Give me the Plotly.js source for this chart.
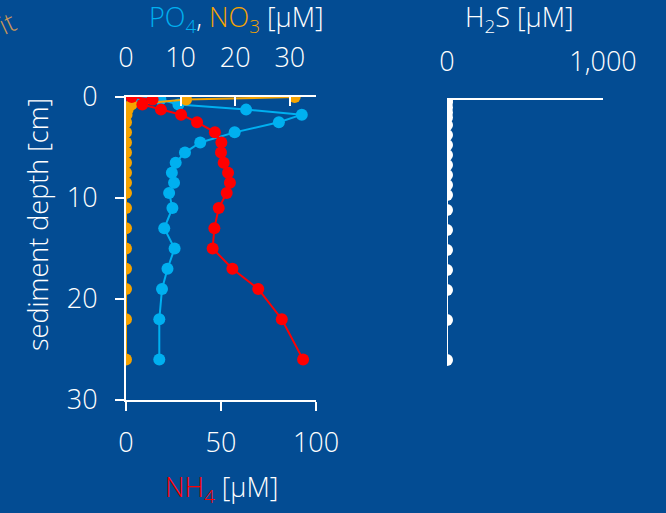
<!DOCTYPE html>
<html>
<head>
<meta charset="utf-8">
<script src="https://cdn.plot.ly/plotly-3.0.1.min.js"></script>
<style>html,body{margin:0;padding:0;background:#034c93;}#chart{width:666px;height:513px;}</style>
</head>
<body>
<div id="chart"></div>
<script>
// sediment depth [cm]
const depth = [0, 0.25, 0.75, 1.25, 1.75, 2.5, 3.5, 4.5, 5.5, 6.5, 7.5, 8.5, 9.5, 11, 13, 15, 17, 19, 22, 26];
// concentrations [µM]
const nh4 = [3, 14, 8.6, 18.4, 29, 37.4, 46.8, 50.2, 50, 51.4, 53.7, 54.7, 53, 48.8, 46.5, 45.6, 56, 69.6, 82, 93.2];
const po4 = [2.1, 6.3, 9.6, 22, 32.2, 28, 19.9, 13.6, 10.8, 9.1, 8.4, 8.8, 7.9, 8.5, 7.0, 8.9, 7.6, 6.6, 6.1, 6.1];
const no3 = [30.9, 11.0, 1.0, 0.3, 0.1, 0, 0, 0, 0, 0, 0, 0, 0, 0, 0, 0, 0, 0, 0, 0];
const h2s = [0, 0, 0, 0, 0, 0, 0, 0, 0, 0, 0, 0, 0, 0, 0, 0, 0, 0, 0, 0];
const nutrientTicks = [0, 10, 20, 30];
const nh4Ticks = [0, 50, 100];
const h2sTicks = [0, 1000];
const depthTicks = [0, 10, 20, 30];

const BG = '#034c93', CYAN = '#00b0f0', ORANGE = '#f5a300', RED = '#ff0000', WHITE = '#ffffff';
const W = 666, H = 513;
const px = v => v / W, py = v => 1 - v / H;
const FONT = {family: 'Open Sans, sans-serif', size: 27, color: WHITE, weight: 300};

function series(x, color, xa, ya) {
  return {x: x, y: depth, xaxis: xa, yaxis: ya, type: 'scatter', mode: 'lines+markers',
    line: {color: color, width: 2}, marker: {color: color, size: 12}, hoverinfo: 'skip', showlegend: false};
}
const data = [
  series(po4, CYAN, 'x', 'y'),
  series(no3, ORANGE, 'x', 'y'),
  series(nh4, RED, 'x2', 'y'),
  series(h2s, WHITE, 'x3', 'y2')
];

const axisCommon = {showgrid: false, zeroline: false, showline: true, linecolor: WHITE, linewidth: 2,
  tickcolor: WHITE, tickwidth: 2, ticklen: 9, tickfont: FONT, tickmode: 'array'};

const layout = {
  width: W, height: H,
  paper_bgcolor: BG, plot_bgcolor: 'rgba(0,0,0,0)',
  margin: {l: 0, r: 0, t: 0, b: 0},
  font: FONT,
  showlegend: false,
  xaxis: Object.assign({}, axisCommon, {domain: [px(126), px(316)], range: [0, 34.8], side: 'top', anchor: 'y',
    tickvals: nutrientTicks, ticktext: nutrientTicks.map(String), ticks: 'inside', ticklabelstandoff: 17}),
  xaxis2: Object.assign({}, axisCommon, {overlaying: 'x', range: [0, 100], side: 'bottom', anchor: 'y',
    tickvals: nh4Ticks, ticktext: nh4Ticks.map(String), ticks: 'outside', ticklabelstandoff: 9}),
  yaxis: Object.assign({}, axisCommon, {domain: [py(400), py(97)], range: [30, 0], anchor: 'x',
    tickvals: depthTicks, ticktext: depthTicks.map(String), ticks: 'outside', ticklabelstandoff: 12}),
  xaxis3: Object.assign({}, axisCommon, {domain: [px(447), px(603)], range: [0, 1000], side: 'top', anchor: 'y2',
    tickvals: h2sTicks, ticktext: ['0', '1,000'], ticks: 'inside', ticklen: 10, ticklabelstandoff: 16}),
  yaxis2: {domain: [py(400), py(100)], range: [30, 0], anchor: 'x3', visible: false},
  annotations: [
    {xref: 'paper', yref: 'paper', x: px(236), y: py(18), xanchor: 'center', yanchor: 'middle', showarrow: false,
     font: FONT,
     text: "<span style='color:" + CYAN + "'>PO<sub>4</sub></span>, <span style='color:" + ORANGE + "'>NO<sub>3</sub></span> [µM]"},
    {xref: 'paper', yref: 'paper', x: px(519), y: py(19), xanchor: 'center', yanchor: 'middle', showarrow: false,
     font: FONT, text: 'H<sub>2</sub>S [µM]'},
    {xref: 'paper', yref: 'paper', x: px(221), y: py(488), xanchor: 'center', yanchor: 'middle', showarrow: false,
     font: FONT, text: "<span style='color:" + RED + "'>NH<sub>4</sub></span> [µM]"},
    {xref: 'paper', yref: 'paper', x: px(37), y: py(225), xanchor: 'center', yanchor: 'middle', showarrow: false,
     font: FONT, textangle: -90, text: 'sediment depth [cm]'},
    {xref: 'paper', yref: 'paper', x: px(24), y: py(22), xanchor: 'right', yanchor: 'middle', showarrow: false,
     font: {family: 'Open Sans, sans-serif', size: 27, color: '#c8965a', weight: 300}, textangle: -25, text: 'it'}
  ]
};

Plotly.newPlot('chart', data, layout, {displayModeBar: false, staticPlot: true});
</script>
</body>
</html>
